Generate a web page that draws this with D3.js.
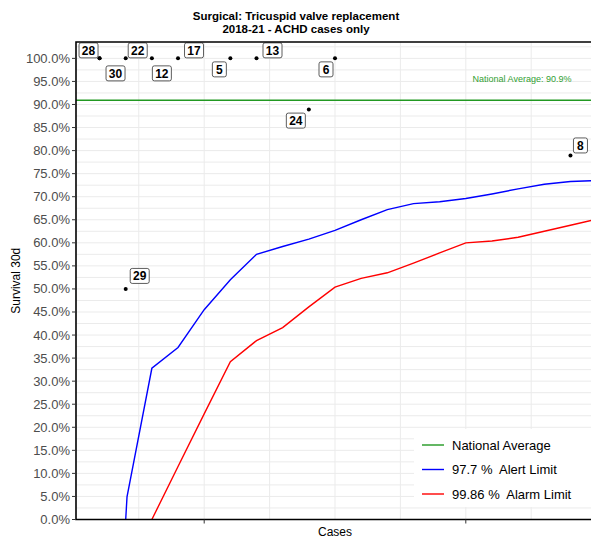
<!DOCTYPE html>
<html>
<head>
<meta charset="utf-8">
<script src="https://cdn.jsdelivr.net/npm/d3@7"></script>
<style>
  html, body { margin: 0; padding: 0; background: #fff; }
  svg { display: block; font-family: "Liberation Sans", Arial, sans-serif; }
  text { white-space: pre; }
</style>
</head>
<body>
<svg id="chart" width="591" height="538"></svg>
<script>
// Hospital results: number of cases and 30-day survival (%)
const hospitals = ["28", "30", "22", "12", "17", "5", "13", "6", "24", "29", "8"];
const hospitalCases = [1, 1, 2, 3, 4, 6, 7, 10, 9, 2, 19];
const hospitalSurvival = [100, 100, 100, 100, 100, 100, 100, 100, 88.89, 50, 78.95];

// Funnel limits by number of cases
const alertCases = [2, 2.05, 3, 4, 5, 6, 7, 8, 9, 10, 11, 12, 13, 14, 15, 16, 17, 18, 19, 20];
const alertSurvival = [0, 4.9, 32.8, 37.3, 45.5, 52.0, 57.5, 59.2, 60.8, 62.7, 65.0, 67.2, 68.5, 68.9, 69.6, 70.6, 71.7, 72.7, 73.3, 73.5];
const alarmCases = [3, 4, 5, 6, 7, 8, 9, 10, 11, 12, 13, 14, 15, 16, 17, 18, 19, 20];
const alarmSurvival = [0, 11.5, 22.9, 34.2, 38.8, 41.6, 46.1, 50.4, 52.3, 53.5, 55.6, 57.8, 60.0, 60.4, 61.2, 62.5, 63.8, 65.1];

const nationalAverage = 90.9;

const legendLabels = ["National Average", "97.7 %  Alert Limit", "99.86 %  Alarm Limit"];
const legendColors = ["#229922", "#0000ff", "#ff0000"];

const yTicks = d3.range(0, 100.01, 5);
const xTicks = [5, 15];

// label placement relative to each point (px): repelled boxes
const labelOffset = {
  "28": [-11, -8], "30": [16, 15], "22": [12, -8], "12": [10, 15], "17": [16, -8],
  "5": [-11, 11], "13": [16, -8], "6": [-9, 11], "24": [-13, 11], "29": [14, -13], "8": [10, -10]
};

const svg = d3.select("#chart");
const panel = { left: 76, right: 594, top: 42, bottom: 519.5 };

const x = d3.scaleLinear().domain([0.1, 19.9]).range([panel.left, panel.right]);
const y = d3.scaleLinear().domain([0, 103.55]).range([panel.bottom, panel.top]);

svg.append("defs").append("clipPath").attr("id", "clip")
  .append("rect")
  .attr("x", panel.left).attr("y", panel.top)
  .attr("width", panel.right - panel.left).attr("height", panel.bottom - panel.top);

// grid
const grid = svg.append("g");
grid.selectAll("line.h").data(d3.range(0, 103.5, 2.5)).join("line")
  .attr("x1", panel.left).attr("x2", panel.right)
  .attr("y1", d => y(d)).attr("y2", d => y(d))
  .attr("stroke", "#ebebeb").attr("stroke-width", 1);
grid.selectAll("line.v").data(d3.range(2.5, 20, 2.5)).join("line")
  .attr("y1", panel.top).attr("y2", panel.bottom)
  .attr("x1", d => x(d)).attr("x2", d => x(d))
  .attr("stroke", "#ebebeb").attr("stroke-width", 1);

const plot = svg.append("g").attr("clip-path", "url(#clip)");

// national average
plot.append("line")
  .attr("x1", panel.left).attr("x2", panel.right)
  .attr("y1", y(nationalAverage)).attr("y2", y(nationalAverage))
  .attr("stroke", legendColors[0]).attr("stroke-width", 1.5);

svg.append("text")
  .attr("x", 522).attr("y", y(nationalAverage) - 18)
  .attr("text-anchor", "middle")
  .attr("font-size", 9)
  .attr("fill", "#33a033")
  .text("National Average: " + nationalAverage + "%");

const line = d3.line().x(d => x(d[0])).y(d => y(d[1]));

plot.append("path")
  .datum(alertCases.map((c, i) => [c, alertSurvival[i]]))
  .attr("d", line).attr("fill", "none")
  .attr("stroke", legendColors[1]).attr("stroke-width", 1.4);

plot.append("path")
  .datum(alarmCases.map((c, i) => [c, alarmSurvival[i]]))
  .attr("d", line).attr("fill", "none")
  .attr("stroke", legendColors[2]).attr("stroke-width", 1.4);

// points
const pts = hospitals.map((h, i) => ({ id: h, n: hospitalCases[i], s: hospitalSurvival[i] }));
plot.selectAll("circle").data(pts).join("circle")
  .attr("cx", d => x(d.n)).attr("cy", d => y(d.s)).attr("r", 2)
  .attr("fill", "#000");

// labels
const lab = svg.append("g").selectAll("g").data(pts).join("g")
  .attr("transform", d => {
    const o = labelOffset[d.id];
    return `translate(${x(d.n) + o[0]},${y(d.s) + o[1]})`;
  });
lab.append("rect")
  .attr("x", d => d.id.length > 1 ? -9.5 : -7)
  .attr("width", d => d.id.length > 1 ? 19 : 14)
  .attr("y", -7.5).attr("height", 15)
  .attr("rx", 2)
  .attr("fill", "#fff").attr("stroke", "#333").attr("stroke-width", 0.8);
lab.append("text")
  .attr("text-anchor", "middle").attr("y", 4.5)
  .attr("font-size", 12).attr("font-weight", "bold")
  .attr("fill", "#000")
  .text(d => d.id);

// legend
const legend = svg.append("g");
legend.append("rect").attr("x", 414).attr("y", 429).attr("width", 177).attr("height", 78).attr("fill", "#fff");
legendLabels.forEach((t, i) => {
  const cy = 445 + i * 24.5;
  legend.append("line").attr("x1", 422).attr("x2", 444).attr("y1", cy).attr("y2", cy)
    .attr("stroke", legendColors[i]).attr("stroke-width", 1.4);
  legend.append("text").attr("x", 452).attr("y", cy + 4.5)
    .attr("font-size", 13).attr("fill", "#000").text(t);
});

// panel border
svg.append("path")
  .attr("d", `M${panel.right},${panel.top}H${panel.left}V${panel.bottom}H${panel.right}`)
  .attr("fill", "none").attr("stroke", "#000").attr("stroke-width", 1.6);

// y axis
const yAxis = svg.append("g");
yAxis.selectAll("line").data(yTicks).join("line")
  .attr("x1", panel.left - 4).attr("x2", panel.left)
  .attr("y1", d => y(d)).attr("y2", d => y(d))
  .attr("stroke", "#333").attr("stroke-width", 1);
yAxis.selectAll("text").data(yTicks).join("text")
  .attr("x", panel.left - 6).attr("y", d => y(d) + 4.5)
  .attr("text-anchor", "end").attr("font-size", 13).attr("fill", "#4d4d4d")
  .text(d => d.toFixed(1) + "%");

// x axis ticks
svg.append("g").selectAll("line").data(xTicks).join("line")
  .attr("x1", d => x(d)).attr("x2", d => x(d))
  .attr("y1", panel.bottom).attr("y2", panel.bottom + 4)
  .attr("stroke", "#333").attr("stroke-width", 1);

// axis titles
svg.append("text").attr("x", (panel.left + panel.right) / 2).attr("y", 536)
  .attr("text-anchor", "middle").attr("font-size", 12).attr("fill", "#000").text("Cases");
svg.append("text")
  .attr("transform", `translate(20,${(panel.top + panel.bottom) / 2}) rotate(-90)`)
  .attr("text-anchor", "middle").attr("font-size", 12).attr("fill", "#000").text("Survival 30d");

// title
const title = svg.append("text").attr("text-anchor", "middle").attr("font-size", 11.5).attr("font-weight", "bold").attr("fill", "#000");
title.append("tspan").attr("x", 296).attr("y", 20).text("Surgical: Tricuspid valve replacement");
title.append("tspan").attr("x", 296).attr("y", 33).text("2018-21 - ACHD cases only");
</script>
</body>
</html>
